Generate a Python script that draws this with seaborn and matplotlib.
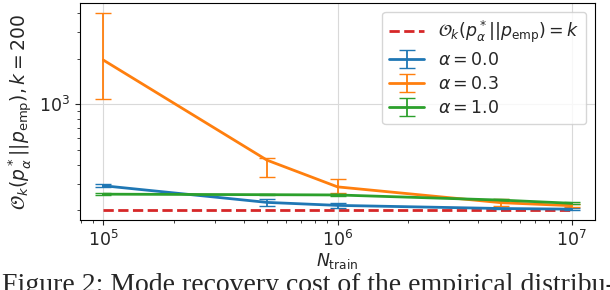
import seaborn as sns
import matplotlib.pyplot as plt
import pandas as pd

# training set sizes
n_train = [1e5, 5e5, 1e6, 5e6, 1e7]
k = 200

# mode recovery cost per alpha: mean, lower and upper error bar ends
alphas = ['0.0', '0.3', '1.0']
cost_mean = {
    '0.0': [290, 225, 215, 205, 203],
    '0.3': [1963, 428, 285, 224, 214],
    '1.0': [255, 253, 252, 233, 222],
}
cost_low = {
    '0.0': [284, 212, 208, 202, 200],
    '0.3': [1079, 332, 258, 213, 209],
    '1.0': [252, 250, 249, 230, 219],
}
cost_high = {
    '0.0': [296, 238, 222, 208, 206],
    '0.3': [4030, 445, 320, 236, 219],
    '1.0': [258, 256, 255, 236, 225],
}

sns.set_style('ticks', {'axes.grid': True, 'grid.color': '.85'})
plt.rcParams['mathtext.fontset'] = 'dejavusans'
palette = sns.color_palette('tab10')
colors = {'0.0': palette[0], '0.3': palette[1], '1.0': palette[2]}

fig = plt.figure(figsize=(6.1, 2.9), dpi=100)
ax = fig.add_axes([80 / 610, 1 - 220 / 290, 515 / 610, 217 / 290])

ref = pd.DataFrame({'N': n_train, 'cost': [k] * len(n_train)})
sns.lineplot(data=ref, x='N', y='cost', ax=ax, color=palette[3], linestyle='--',
             linewidth=2.0, label=r'$\mathcal{O}_k(p_\alpha^*||p_{\mathrm{emp}})=k$')

for a in alphas:
    m = cost_mean[a]
    lo = [mi - li for mi, li in zip(m, cost_low[a])]
    hi = [hi_ - mi for mi, hi_ in zip(m, cost_high[a])]
    ax.errorbar(n_train, m, yerr=[lo, hi], color=colors[a], linewidth=2.0,
                elinewidth=1.3, capsize=6, label=r'$\alpha = %s$' % a)

ax.set_xscale('log')
ax.set_yscale('log')
ax.set_xlabel(r'$N_{\mathrm{train}}$', fontsize=12.5, labelpad=1)
ax.set_ylabel(r'$\mathcal{O}_k(p_\alpha^*||p_{\mathrm{emp}}), k=200$', fontsize=13.5,
              labelpad=3)
ax.tick_params(labelsize=12.5)
ax.grid(True, which='major')
ax.grid(False, which='minor')
for s in ax.spines.values():
    s.set_color('black')

ax.legend(loc='upper right', fontsize=12.5, handlelength=2.0, labelspacing=0.35)

fig.text(0.004, -2.5 / 290, 'Figure 2: Mode recovery cost of the empirical distribu-',
         family='Liberation Serif', fontsize=20, va='baseline', ha='left')

fig.savefig('out.png', dpi=100)
